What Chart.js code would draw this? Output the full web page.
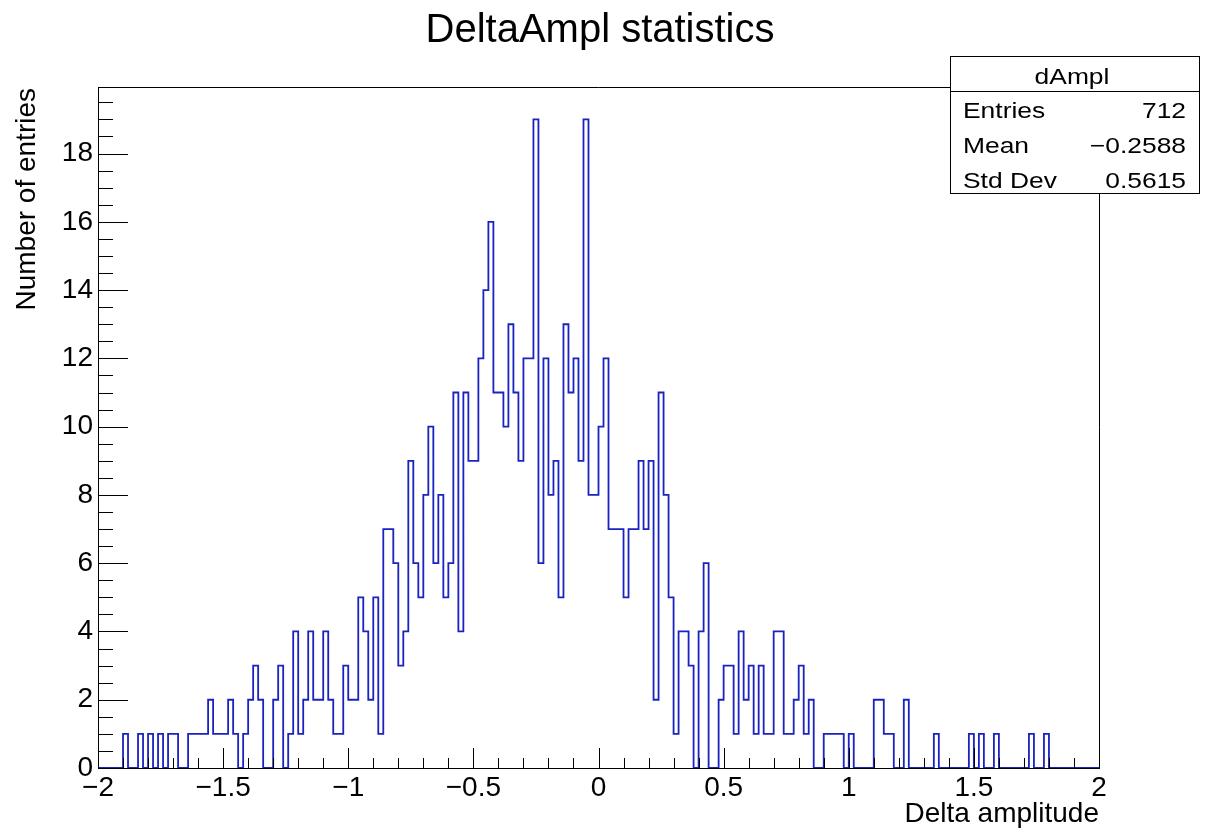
<!DOCTYPE html>
<html lang="en">
<head>
<meta charset="UTF-8">
<title>DeltaAmpl statistics</title>
<script src="https://cdn.jsdelivr.net/npm/chart.js"></script>
<style>
  body { margin: 0; background: #fff; }
  #wrap { width: 1208px; height: 834px; position: relative; }
</style>
</head>
<body>
<div id="wrap"><canvas id="chart"></canvas></div>
<script>
// histogram binning: 200 bins from -2 to 2
const xMin = -2;
const xMax = 2;
const binWidth = 0.02;

// bin contents (left to right)
const counts = [
  0, 0, 0, 0, 0,  1, 0, 0, 1, 0,  1, 0, 1, 0, 1,  1, 0, 0, 1, 1,
  1, 1, 2, 1, 1,  1, 2, 1, 0, 1,  2, 3, 2, 0, 0,  2, 3, 0, 1, 4,
  1, 2, 4, 2, 2,  4, 2, 1, 1, 3,  2, 2, 5, 4, 2,  5, 1, 7, 7, 6,
  3, 4, 9, 6, 5,  8, 10, 6, 8, 5,  6, 11, 4, 11, 9,  9, 12, 14, 16, 11,
  11, 10, 13, 11, 9,  12, 12, 19, 6, 12,  8, 9, 5, 13, 11,  12, 9, 19, 8, 8,
  10, 12, 7, 7, 7,  5, 7, 7, 9, 7,  9, 2, 11, 8, 5,  1, 4, 4, 3, 0,
  4, 6, 0, 0, 2,  3, 3, 1, 4, 2,  3, 1, 3, 1, 1,  4, 4, 1, 1, 2,
  3, 1, 2, 0, 0,  1, 1, 1, 1, 0,  1, 0, 0, 0, 0,  2, 2, 1, 1, 0,
  0, 2, 0, 0, 0,  0, 0, 1, 0, 0,  0, 0, 0, 0, 1,  0, 1, 0, 0, 1,
  0, 0, 0, 0, 0,  0, 1, 0, 0, 1,  0, 0, 0, 0, 0,  0, 0, 0, 0, 0
];

const xTickValues = [-2, -1.5, -1, -0.5, 0, 0.5, 1, 1.5, 2];
const yTickValues = [0, 2, 4, 6, 8, 10, 12, 14, 16, 18];
const yMax = 19.95;

const statsName = 'dAmpl';
const statsLabels = ['Entries', 'Mean', 'Std Dev'];
const statsValues = ['712', '\u22120.2588', '0.5615'];

const FONT = '"Liberation Sans", Arial, Helvetica, sans-serif';
const minus = v => (v < 0 ? '\u2212' + Math.abs(v) : String(v));

// step outline: start at baseline, one point per bin upper edge, back to baseline
const points = [{ x: xMin, y: 0 }];
counts.forEach((c, i) => points.push({ x: xMin + (i + 1) * binWidth, y: c }));
points.push({ x: xMax, y: 0 });

const rootDecor = {
  id: 'rootDecor',
  afterDraw(chart) {
    const { ctx, chartArea: a, scales: { x, y } } = chart;
    ctx.save();
    ctx.strokeStyle = '#000';
    ctx.lineWidth = 1;

    // frame top + right
    ctx.beginPath();
    ctx.moveTo(a.left, a.top + 0.5);
    ctx.lineTo(a.right + 0.5, a.top + 0.5);
    ctx.lineTo(a.right + 0.5, a.bottom);
    ctx.stroke();

    // inward ticks, root style
    ctx.beginPath();
    for (let k = 0; k <= 40; k++) {
      const px = Math.round(x.getPixelForValue(xMin + k * 0.1)) + 0.5;
      const len = k % 5 === 0 ? 20 : 10;
      ctx.moveTo(px, a.bottom);
      ctx.lineTo(px, a.bottom - len);
    }
    for (let k = 0; k * 0.5 <= yMax; k++) {
      const py = Math.round(y.getPixelForValue(k * 0.5)) + 0.5;
      const len = k % 4 === 0 ? 30 : 15;
      ctx.moveTo(a.left, py);
      ctx.lineTo(a.left + len, py);
    }
    ctx.stroke();

    // title
    ctx.fillStyle = '#000';
    ctx.font = '40px ' + FONT;
    ctx.textAlign = 'center';
    ctx.textBaseline = 'alphabetic';
    ctx.fillText('DeltaAmpl statistics', 600, 42);

    // axis titles
    ctx.font = '28px ' + FONT;
    ctx.textAlign = 'right';
    ctx.fillText('Delta amplitude', a.right, 822);
    ctx.save();
    ctx.translate(35, a.top + 1);
    ctx.rotate(-Math.PI / 2);
    ctx.textAlign = 'right';
    ctx.fillText('Number of entries', 0, 0);
    ctx.restore();

    // stats box
    const bx = 950.5, by = 56.5, bw = 249, bh = 137;
    ctx.fillStyle = '#fff';
    ctx.fillRect(bx, by, bw, bh);
    ctx.strokeRect(bx, by, bw, bh);
    ctx.beginPath();
    ctx.moveTo(bx, 91.5);
    ctx.lineTo(bx + bw, 91.5);
    ctx.stroke();

    ctx.fillStyle = '#000';
    ctx.font = '22px ' + FONT;
    const stretched = (txt, tx, ty, align) => {
      ctx.save();
      ctx.translate(tx, ty);
      ctx.scale(1.2, 1);
      ctx.textAlign = align;
      ctx.fillText(txt, 0, 0);
      ctx.restore();
    };
    stretched(statsName, 1072, 84, 'center');
    statsLabels.forEach((lab, i) => {
      const ty = 118 + i * 35;
      stretched(lab, 963, ty, 'left');
      stretched(statsValues[i], 1186, ty, 'right');
    });
    ctx.restore();
  }
};

const ctx = document.getElementById('chart').getContext('2d');
new Chart(ctx, {
  type: 'line',
  data: {
    datasets: [{
      data: points,
      stepped: 'after',
      borderColor: '#1a22c0',
      borderWidth: 1.8,
      pointRadius: 0,
      fill: false
    }]
  },
  options: {
    responsive: true,
    maintainAspectRatio: false,
    animation: false,
    layout: { padding: { top: 87, right: 109, left: 0, bottom: 0 } },
    plugins: {
      legend: { display: false },
      tooltip: { enabled: false },
      title: { display: false }
    },
    scales: {
      x: {
        type: 'linear',
        min: xMin,
        max: xMax,
        afterBuildTicks: s => { s.ticks = xTickValues.map(v => ({ value: v })); },
        afterFit: s => { s.height = 66; },
        ticks: {
          color: '#000',
          font: { family: FONT, size: 28 },
          padding: 3,
          maxRotation: 0,
          autoSkip: false,
          callback: v => minus(v)
        },
        grid: { drawOnChartArea: false, drawTicks: false },
        border: { display: true, color: '#000', width: 1 }
      },
      y: {
        type: 'linear',
        min: 0,
        max: yMax,
        afterBuildTicks: s => { s.ticks = yTickValues.map(v => ({ value: v })); },
        afterFit: s => { s.width = 98; },
        ticks: {
          color: '#000',
          font: { family: FONT, size: 28 },
          padding: 5,
          callback: v => String(v)
        },
        grid: { drawOnChartArea: false, drawTicks: false },
        border: { display: true, color: '#000', width: 1 }
      }
    }
  },
  plugins: [rootDecor]
});
</script>
</body>
</html>
